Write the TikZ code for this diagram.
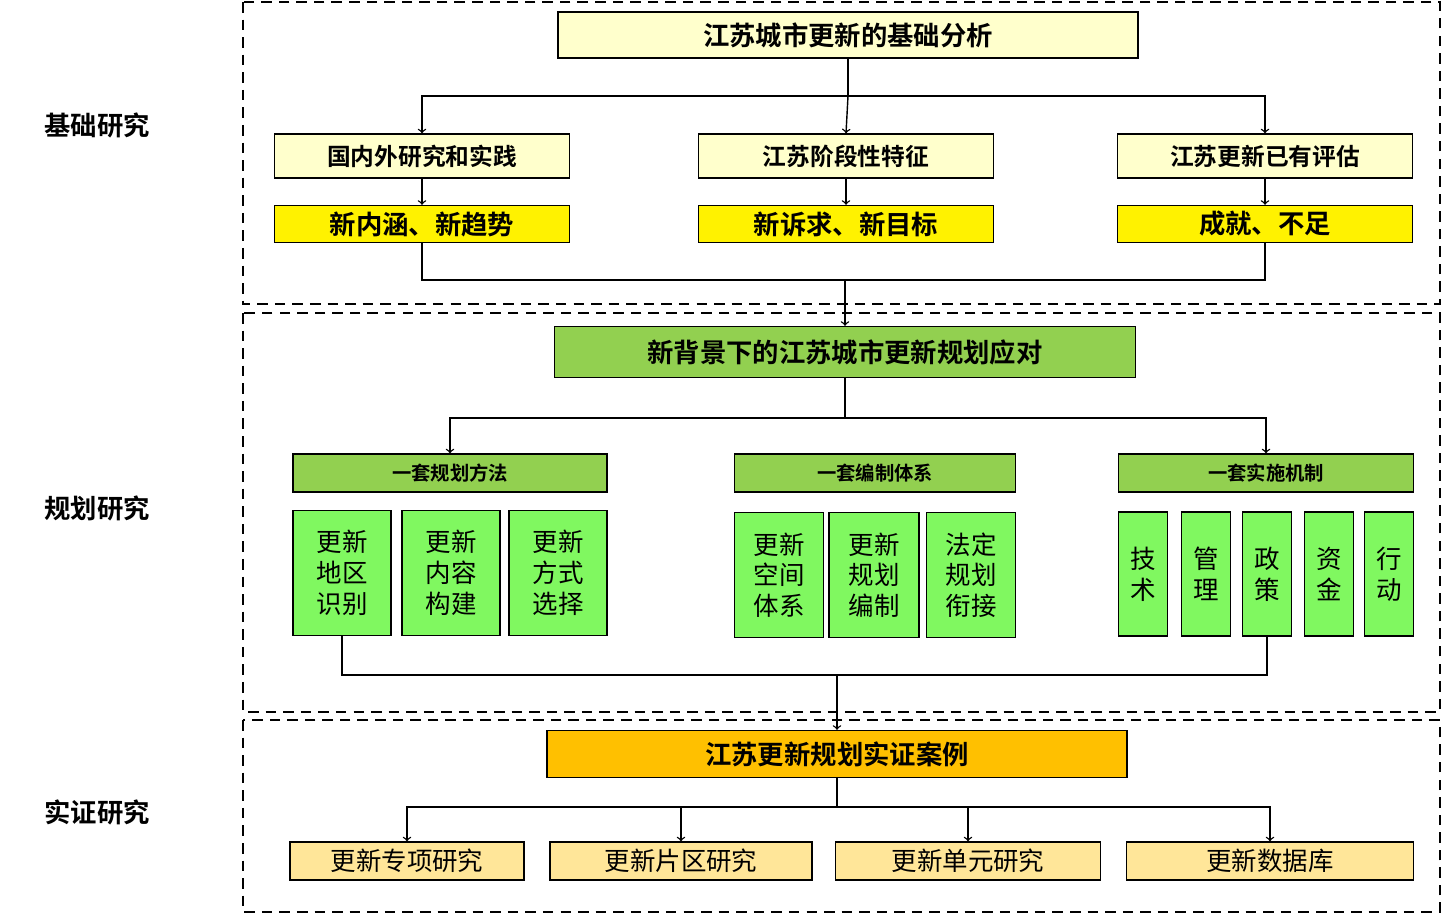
\documentclass[tikz,border=0pt]{standalone}
\usepackage{fontspec}
\setmainfont{Noto Sans CJK SC}
\newfontfamily\cjkbold{Noto Sans CJK SC Bold}
\usetikzlibrary{arrows,positioning}
\definecolor{paleyel}{HTML}{FFFFCC}
\definecolor{leafgrn}{HTML}{92D050}
\definecolor{limegrn}{HTML}{80F860}
\definecolor{amber}{HTML}{FFC000}
\definecolor{sandyel}{HTML}{FFE699}
\tikzset{
	box/.style={draw, thick, inner sep=0pt, align=center},
	region/.style={draw, thick, dash pattern=on 6pt off 4pt},
	wire/.style={thick},
	hd/.style={font=\cjkbold\fontsize{15}{17}\selectfont},
	sub/.style={font=\cjkbold\fontsize{13.5}{16}\selectfont},
	grp/.style={font=\cjkbold\fontsize{11}{13}\selectfont},
	cell/.style={box, fill=limegrn, font=\fontsize{14.5}{17.5}\selectfont},
}
\begin{document}
\begin{tikzpicture}[x=0.02cm,y=-0.02cm]
	\useasboundingbox (0,0) rectangle (1442,914);
	% regions
	\draw[region] (243,2) rectangle (1440,304);
	\draw[region] (243,313) rectangle (1440,712);
	\draw[region] (243,720) rectangle (1440,912);
	\node[hd] (l1) at (97,125) {基础研究};
	\node[hd] (l2) at (97,508) {规划研究};
	\node[hd] (l3) at (97,812) {实证研究};
	% basic analysis
	\node[box, hd, fill=paleyel, minimum width=11.6cm, minimum height=0.92cm] (t1) at (848,35) {江苏城市更新的基础分析};
	\node[box, sub, fill=paleyel, minimum width=5.9cm, minimum height=0.88cm] (a1) at (422,156) {国内外研究和实践};
	\node[box, sub, fill=paleyel, minimum width=5.9cm, minimum height=0.88cm] (b1) at (846,156) {江苏阶段性特征};
	\node[box, sub, fill=paleyel, minimum width=5.9cm, minimum height=0.88cm] (c1) at (1265,156) {江苏更新已有评估};
	\node[box, hd, fill=yellow, minimum width=5.9cm, minimum height=0.74cm] (a2) at (422,224) {新内涵、新趋势};
	\node[box, hd, fill=yellow, minimum width=5.9cm, minimum height=0.74cm] (b2) at (846,224) {新诉求、新目标};
	\node[box, hd, fill=yellow, minimum width=5.9cm, minimum height=0.74cm] (c2) at (1265,224) {成就、不足};
	% planning
	\node[box, hd, fill=leafgrn, minimum width=11.62cm, minimum height=1.02cm] (t2) at (845,352) {新背景下的江苏城市更新规划应对};
	\node[box, grp, fill=leafgrn, minimum width=6.28cm, minimum height=0.76cm] (g1) at (450,473) {一套规划方法};
	\node[box, grp, fill=leafgrn, minimum width=5.62cm, minimum height=0.76cm] (g2) at (875,473) {一套编制体系};
	\node[box, grp, fill=leafgrn, minimum width=5.9cm, minimum height=0.76cm] (g3) at (1266,473) {一套实施机制};
	\node[cell, minimum width=1.96cm, minimum height=2.5cm] (m1) at (342,573) {更新\\地区\\识别};
	\node[cell, minimum width=1.96cm, minimum height=2.5cm] (m2) at (451,573) {更新\\内容\\构建};
	\node[cell, minimum width=1.96cm, minimum height=2.5cm] (m3) at (558,573) {更新\\方式\\选择};
	\node[cell, minimum width=1.78cm, minimum height=2.5cm] (s1) at (779,575) {更新\\空间\\体系};
	\node[cell, minimum width=1.8cm, minimum height=2.5cm] (s2) at (874,575) {更新\\规划\\编制};
	\node[cell, minimum width=1.78cm, minimum height=2.5cm] (s3) at (971,575) {法定\\规划\\衔接};
	\node[cell, minimum width=0.98cm, minimum height=2.48cm] (k1) at (1143,574) {技\\术};
	\node[cell, minimum width=0.98cm, minimum height=2.48cm] (k2) at (1206,574) {管\\理};
	\node[cell, minimum width=0.98cm, minimum height=2.48cm] (k3) at (1267,574) {政\\策};
	\node[cell, minimum width=0.98cm, minimum height=2.48cm] (k4) at (1329,574) {资\\金};
	\node[cell, minimum width=0.98cm, minimum height=2.48cm] (k5) at (1389,574) {行\\动};
	% cases
	\node[box, hd, fill=amber, minimum width=11.6cm, minimum height=0.94cm] (t3) at (837,754) {江苏更新规划实证案例};
	\node[box, fill=sandyel, font=\fontsize{14.5}{17}\selectfont, minimum width=4.68cm, minimum height=0.76cm] (e1) at (407,861) {更新专项研究};
	\node[box, fill=sandyel, font=\fontsize{14.5}{17}\selectfont, minimum width=5.24cm, minimum height=0.76cm] (e2) at (681,861) {更新片区研究};
	\node[box, fill=sandyel, font=\fontsize{14.5}{17}\selectfont, minimum width=5.3cm, minimum height=0.76cm] (e3) at (968,861) {更新单元研究};
	\node[box, fill=sandyel, font=\fontsize{14.5}{17}\selectfont, minimum width=5.74cm, minimum height=0.76cm] (e4) at (1270,861) {更新数据库};
	% connectors
	\coordinate (j1) at (848,96);
	\draw[wire] (t1.south) -- (j1);
	\draw[wire,->] (j1) -| (a1.north);
	\draw[wire,->] (j1) -| (c1.north);
	\draw[wire,->] (j1) -- (b1.north);
	\draw[wire,->] (a1) -- (a2);
	\draw[wire,->] (b1) -- (b2);
	\draw[wire,->] (c1) -- (c2);
	\coordinate (j2) at (845,280);
	\draw[wire] (a2.south) |- (j2) -| (c2.south);
	\draw[wire,->] (j2) -- (t2.north);
	\coordinate (j3) at (845,418);
	\draw[wire] (t2.south) -- (j3);
	\draw[wire,->] (j3) -| (g1.north);
	\draw[wire,->] (j3) -| (g3.north);
	\coordinate (j4) at (837,675);
	\draw[wire] (m1.south) |- (j4) -| (k3.south);
	\draw[wire,->] (j4) -- (t3.north);
	\coordinate (j5) at (837,807);
	\draw[wire] (t3.south) -- (j5);
	\draw[wire,->] (j5) -| (e1.north);
	\draw[wire,->] (j5) -| (e2.north);
	\draw[wire,->] (j5) -| (e3.north);
	\draw[wire,->] (j5) -| (e4.north);
\end{tikzpicture}
\end{document}
